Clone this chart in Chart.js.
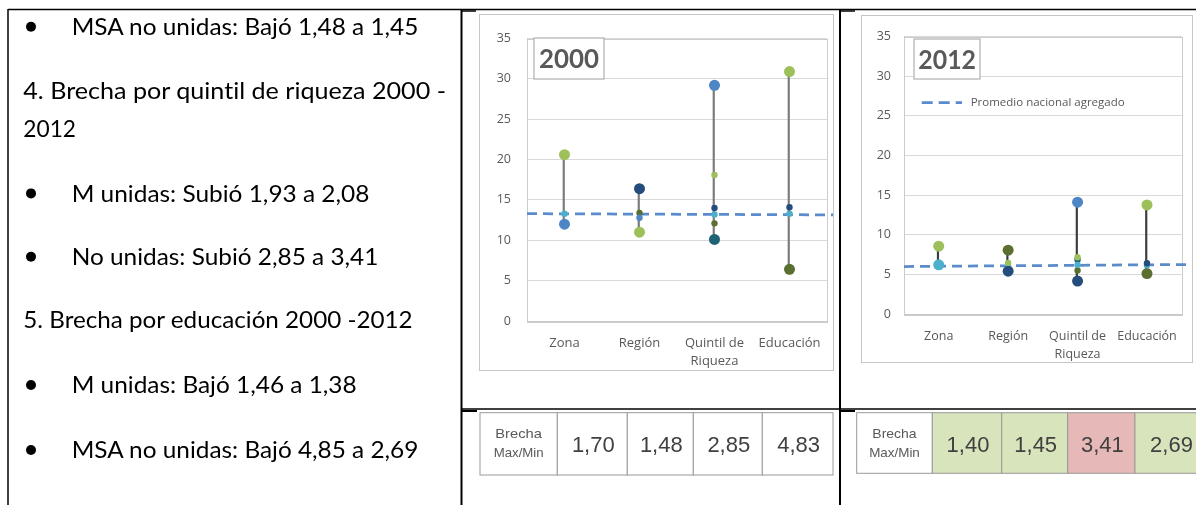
<!DOCTYPE html>
<html><head><meta charset="utf-8">
<script src="https://cdn.jsdelivr.net/npm/chart.js@4/dist/chart.umd.min.js"></script>
<style>
html,body{margin:0;padding:0;background:#fff;width:1196px;height:505px;overflow:hidden;}
.frame{position:absolute;box-sizing:border-box;border:1px solid #c6c6c6;background:#fff;}
.frame canvas{display:block;}
#overlay{position:absolute;left:0;top:0;pointer-events:none;}
#overlay text{font-variant-ligatures:none;font-feature-settings:"liga" 0, "clig" 0;}
</style></head><body>
<div class="frame" style="left:479px;top:14px;width:355px;height:357px;"><canvas id="c2000" width="353" height="355"></canvas></div>
<div class="frame" style="left:861px;top:15px;width:332px;height:348px;"><canvas id="c2012" width="330" height="346"></canvas></div>
<svg id="overlay" width="1196" height="505" xmlns="http://www.w3.org/2000/svg"></svg>
<script>
// ---------- DATA ----------
const categorias = ['Zona', 'Región', ['Quintil de', 'Riqueza'], 'Educación'];
const ejeY = [0, 5, 10, 15, 20, 25, 30, 35];

// Año 2000 (valores por categoría: Zona, Región, Quintil, Educación)
const verde2000    = [20.6, 11.0, 18.1, 30.9];
const azul2000     = [12.0, 12.8, 29.2, null];
const marino2000   = [null, 16.4, 14.0, 14.1];
const celeste2000  = [13.3, null, 13.2, 13.3];
const oliva2000    = [null, 13.4, 12.1, 6.4];
const petroleo2000 = [null, null, 10.1, null];
const promedio2000 = [13.3, 13.15];

// Año 2012
const verde2012    = [8.55, 6.45, 7.15, 13.75];
const azul2012     = [null, null, 14.1, null];
const marino2012   = [null, 5.4, 4.15, 6.4];
const celeste2012  = [6.2, 6.03, 6.2, 6.15];
const oliva2012    = [null, 8.05, 5.5, 5.1];
const petroleo2012 = [null, null, 6.85, null];
const promedio2012 = [5.99, 6.24];

const leyendaPromedio = 'Promedio nacional agregado';
const brechaEtiqueta = ['Brecha', 'Max/Min'];
const brecha2000 = ['1,70', '1,48', '2,85', '4,83'];
const brecha2012 = ['1,40', '1,45', '3,41', '2,69'];

const lineasTexto = [
  'MSA no unidas: Bajó 1,48 a 1,45',
  '4. Brecha por quintil de riqueza 2000 -',
  '2012',
  'M unidas: Subió 1,93 a 2,08',
  'No unidas: Subió 2,85 a 3,41',
  '5. Brecha por educación 2000 -2012',
  'M unidas: Bajó 1,46 a 1,38',
  'MSA no unidas: Bajó 4,85 a 2,69'
];

// ---------- STYLE / LAYOUT ----------
const C = {verde:'#9dc05a', azul:'#4e85c5', marino:'#244c7c', celeste:'#4cb0cc', oliva:'#5b7030', petroleo:'#1f6275'};
const textoLayout = [
  {x:71.7, y:35,    w:346.7, b:true},
  {x:23.3, y:99.3,  w:422.7, b:false},
  {x:23.3, y:136.7, w:52.7,  b:false},
  {x:71.7, y:201.7, w:297.7, b:true},
  {x:71.7, y:265,   w:306.7, b:true},
  {x:23.3, y:328.3, w:389.3, b:false},
  {x:71.7, y:393.3, w:285,   b:true},
  {x:71.7, y:458.3, w:346.7, b:true}
];

function buildChart(id, series, promedio, cfg) {
  const grupo = series.map(s => s.data);
  const rango = categorias.map((_, i) => {
    const v = grupo.map(s => s[i]).filter(x => x != null);
    return [Math.min(...v), Math.max(...v)];
  });
  const esExtremo = (ctx) => {
    const v = ctx.dataset.data[ctx.dataIndex];
    const r = rango[ctx.dataIndex];
    return v === r[0] || v === r[1];
  };
  const datasets = series.map(s => ({
    type: 'line', label: s.label, data: s.data, showLine: false,
    pointBackgroundColor: s.color, pointBorderWidth: 0,
    pointRadius: ctx => esExtremo(ctx) ? cfg.rBig : cfg.rSmall,
    order: 0, xAxisID: 'x', yAxisID: 'y'
  }));
  datasets.push({
    type: 'line', label: leyendaPromedio, xAxisID: 'xl', yAxisID: 'y',
    data: [{x: -0.5, y: promedio[0]}, {x: 3.5 + cfg.over, y: promedio[1]}],
    borderColor: '#5b8bcb', borderWidth: 2.75, borderDash: [10, 6],
    pointRadius: 0, clip: false, order: 1
  });
  datasets.push({
    type: 'bar', label: 'rango', data: rango, xAxisID: 'x', yAxisID: 'y',
    backgroundColor: cfg.conector, barThickness: 1.5, borderWidth: 0, order: 2
  });
  const plotBorder = {
    id: 'plotBorder',
    beforeDatasetsDraw(chart) {
      const a = chart.chartArea, c = chart.ctx;
      c.save(); c.strokeStyle = '#cccccc'; c.lineWidth = 1;
      c.strokeRect(Math.round(a.left) + 0.5, Math.round(a.top) + 0.5, Math.round(a.right - a.left), Math.round(a.bottom - a.top));
      c.restore();
    }
  };
  return new Chart(document.getElementById(id), {
    data: {labels: categorias, datasets},
    plugins: [plotBorder],
    options: {
      responsive: false, animation: false, events: [],
      layout: {padding: {top: cfg.top, right: cfg.right, left: 0, bottom: 0}},
      plugins: {legend: {display: false}, tooltip: {enabled: false}},
      scales: {
        x: {type: 'category', offset: true, grid: {display: false},
            border: {color: '#c8c8c8'},
            ticks: {color: '#595959', font: {family: 'Open Sans', size: cfg.xFont, lineHeight: 1.4},
                    padding: cfg.xPad, maxRotation: 0, autoSkip: false},
            afterFit: s => { s.height = cfg.xH; }},
        xl: {type: 'linear', display: false, min: -0.5, max: 3.5},
        y: {min: 0, max: 35, afterBuildTicks: s => { s.ticks = ejeY.map(v => ({value: v})); },
            grid: {color: '#d9d9d9', drawTicks: false}, border: {color: '#c8c8c8'},
            ticks: {color: '#595959', font: {family: 'Open Sans', size: 12.5}, padding: cfg.yPad},
            afterFit: s => { s.width = cfg.yW; }}
      }
    }
  });
}

buildChart('c2000', [
  {label: 'verde', data: verde2000, color: C.verde},
  {label: 'azul', data: azul2000, color: C.azul},
  {label: 'marino', data: marino2000, color: C.marino},
  {label: 'celeste', data: celeste2000, color: C.celeste},
  {label: 'oliva', data: oliva2000, color: C.oliva},
  {label: 'petroleo', data: petroleo2000, color: C.petroleo}
], promedio2000, {top: 14.5, right: 6, yW: 47, xH: 49, xPad: 4.7, yPad: 16, xFont: 13, over: 0.09, rBig: 5.5, rSmall: 3.2, conector: '#7a7a7a'});

buildChart('c2012', [
  {label: 'verde', data: verde2012, color: C.verde},
  {label: 'azul', data: azul2012, color: C.azul},
  {label: 'marino', data: marino2012, color: C.marino},
  {label: 'celeste', data: celeste2012, color: C.celeste},
  {label: 'oliva', data: oliva2012, color: C.oliva},
  {label: 'petroleo', data: petroleo2012, color: C.petroleo}
], promedio2012, {top: 16, right: 10.3, yW: 42, xH: 48, xPad: 6, yPad: 13, xFont: 12.5, over: 0.12, rBig: 5.5, rSmall: 3.2, conector: '#3c3c3c'});

// ---------- OVERLAY (document table, text boxes, legend, gap tables) ----------
const NS = 'http://www.w3.org/2000/svg';
const svg = document.getElementById('overlay');
function el(tag, attrs, text) {
  const e = document.createElementNS(NS, tag);
  for (const k in attrs) e.setAttribute(k, attrs[k]);
  if (text != null) e.textContent = text;
  svg.appendChild(e); return e;
}
// document table borders
[[8, 9.5, 1196, 9.5, 1.5], [8, 9, 8, 505, 1.5], [461.5, 9, 461.5, 505, 2], [840, 9, 840, 505, 2],
 [462, 409, 1196, 409, 1.6], [462, 11, 476, 11, 1.5], [840, 11, 855, 11, 1.5],
 [462, 411, 477, 411, 2], [840, 411, 855, 411, 2]].forEach(l =>
  el('line', {x1: l[0], y1: l[1], x2: l[2], y2: l[3], stroke: '#000', 'stroke-width': l[4]}));

// left text
lineasTexto.forEach((t, i) => {
  const L = textoLayout[i];
  if (L.b) el('circle', {cx: 31, cy: L.y - 8.3, r: 5, fill: '#000'});
  el('text', {x: L.x, y: L.y, 'font-family': 'Lato', 'font-size': 23, fill: '#000',
              textLength: L.w, lengthAdjust: 'spacingAndGlyphs'}, t);
});

// year boxes
[[534, 38, 70, 41, '2000', 569, 68.3, 60], [914, 39, 66, 40, '2012', 947.2, 69.3, 57.7]].forEach(b => {
  el('rect', {x: b[0], y: b[1], width: b[2], height: b[3], fill: '#fff', stroke: '#b0b0b0', 'stroke-width': 1.2});
  el('text', {x: b[5], y: b[6], 'text-anchor': 'middle', 'font-family': 'Lato', 'font-weight': 'bold',
              'font-size': 26, fill: '#595959', textLength: b[7], lengthAdjust: 'spacingAndGlyphs'}, b[4]);
});

// legend 2012
el('line', {x1: 921.7, y1: 102.7, x2: 962, y2: 102.7, stroke: '#5b8bcb', 'stroke-width': 2.75, 'stroke-dasharray': '11 6'});
el('text', {x: 970.7, y: 106.2, 'font-family': 'Open Sans', 'font-size': 10.5, fill: '#595959',
            textLength: 154, lengthAdjust: 'spacingAndGlyphs'}, leyendaPromedio);

// gap tables
function tabla(xs, y0, y1, valores, fills, labelW) {
  for (let i = 0; i < xs.length - 1; i++) {
    el('rect', {x: xs[i], y: y0, width: xs[i + 1] - xs[i], height: y1 - y0,
                fill: i === 0 ? '#fff' : fills[i - 1], stroke: '#9a9a9a', 'stroke-width': 1});
  }
  const cx0 = (xs[0] + xs[1]) / 2;
  el('text', {x: cx0, y: 438.3, 'text-anchor': 'middle', 'font-family': 'Liberation Sans', 'font-size': 13,
              fill: '#595959', textLength: labelW[0], lengthAdjust: 'spacingAndGlyphs'}, brechaEtiqueta[0]);
  el('text', {x: cx0, y: 456.5, 'text-anchor': 'middle', 'font-family': 'Liberation Sans', 'font-size': 13,
              fill: '#595959', textLength: labelW[1], lengthAdjust: 'spacingAndGlyphs'}, brechaEtiqueta[1]);
  valores.forEach((v, i) => {
    el('text', {x: (xs[i + 1] + xs[i + 2]) / 2 + 1, y: 451.6, 'text-anchor': 'middle',
                'font-family': 'Liberation Sans', 'font-size': 22, fill: '#404040'}, v);
  });
}
tabla([480, 557.3, 627.3, 693.3, 762.3, 833], 412.7, 475, brecha2000, ['#fff', '#fff', '#fff', '#fff'], [46.7, 50]);
tabla([856.7, 932.3, 1001.7, 1067.7, 1135, 1206], 412.7, 473.3, brecha2012, ['#d8e4bc', '#d8e4bc', '#e6b8b7', '#d8e4bc'], [44.3, 50.7]);
</script>
</body></html>
